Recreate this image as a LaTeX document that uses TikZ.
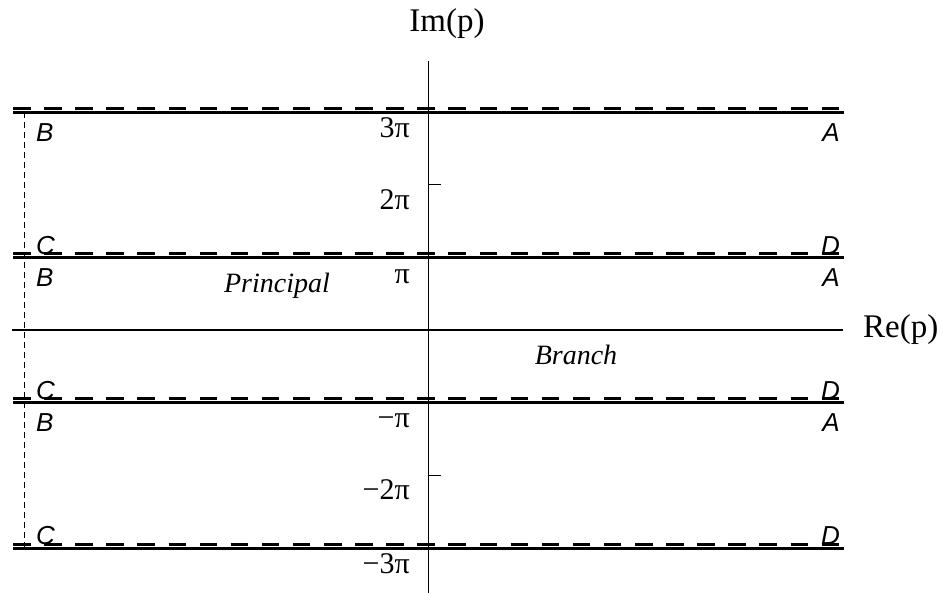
\documentclass[tikz,border=0pt]{standalone}
\usepackage{fontspec}
\setmainfont{Liberation Serif}
\newfontfamily\hv{Liberation Sans}
\begin{document}
\begin{tikzpicture}[x=1pt,y=-1pt,
  axislbl/.style={inner sep=0pt,font=\fontsize{33}{33}\selectfont},
  numlbl/.style={inner sep=0pt,anchor=base east,font=\fontsize{30}{30}\selectfont},
  regionlbl/.style={inner sep=0pt,anchor=base,font=\fontsize{28}{28}\selectfont\itshape},
  cornerlbl/.style={inner sep=0pt,font=\fontsize{26}{26}\hv\itshape},
  cutline/.style={line width=3pt},
  cutdash/.style={line width=3pt,dash pattern=on 17.5pt off 13.6pt},
  thinaxis/.style={line width=1.4pt},
  tickmark/.style={line width=1.4pt},
  sidedash/.style={line width=1pt,dash pattern=on 6pt off 4pt}]
\useasboundingbox (0,0) rectangle (943,594);
% coordinates
\coordinate (imtop) at (428.3,61);
\coordinate (imbot) at (428.3,593);
\coordinate (rel) at (12,330);
\coordinate (rer) at (843,330);
% axes
\draw[thinaxis] (imtop) -- (imbot);
\draw[thinaxis] (rel) -- (rer);
% horizontal cut lines
\foreach \yy/\nm in {112/a,257.5/b,402.5/c,548/d}{
  \coordinate (sl\nm) at (13,\yy);
  \coordinate (sr\nm) at (844,\yy);
  \coordinate (dl\nm) at (13,\yy-3.8);
  \coordinate (dr\nm) at (844,\yy-3.8);
  \draw[cutline] (sl\nm) -- (sr\nm);
  \draw[cutdash] (dl\nm) -- (dr\nm);
}
% left dashed vertical
\coordinate (vt) at (24,112);
\coordinate (vb) at (24,548);
\draw[sidedash] (vt) -- (vb);
% ticks
\foreach \yy/\nm in {257.5/t1,330/t0,402.5/tm1}{
  \coordinate (\nm l) at (418,\yy);
  \coordinate (\nm r) at (439.5,\yy);
  \draw[tickmark] (\nm l) -- (\nm r);
}
\foreach \yy/\nm in {184.75/t2,475.25/tm2}{
  \coordinate (\nm l) at (428.3,\yy);
  \coordinate (\nm r) at (440.5,\yy);
  \draw[tickmark] (\nm l) -- (\nm r);
}
% axis labels
\node[axislbl,anchor=base] (im) at (447,32) {Im(p)};
\node[axislbl,anchor=base west] (re) at (863,337) {Re(p)};
% numbers
\node[numlbl] (n3) at (410,137) {3π};
\node[numlbl] (n2) at (410,209.5) {2π};
\node[numlbl] (n1) at (410,283) {π};
\node[numlbl] (nm1) at (410,427.5) {−π};
\node[numlbl] (nm2) at (410,499.5) {−2π};
\node[numlbl] (nm3) at (410,573) {−3π};
% regions
\node[regionlbl] (princ) at (277,292) {Principal};
\node[regionlbl] (branch) at (576,364) {Branch};
% corner letters
\foreach \yy/\k in {141/1,286/2,431/3}{
  \node[cornerlbl,anchor=base west] (B\k) at (36,\yy) {B};
  \node[cornerlbl,anchor=base east] (A\k) at (840,\yy) {A};
}
\foreach \yy/\k in {254/1,399/2,544/3}{
  \node[cornerlbl,anchor=base west] (C\k) at (36,\yy) {C};
  \node[cornerlbl,anchor=base east] (D\k) at (840,\yy) {D};
}
\end{tikzpicture}
\end{document}
